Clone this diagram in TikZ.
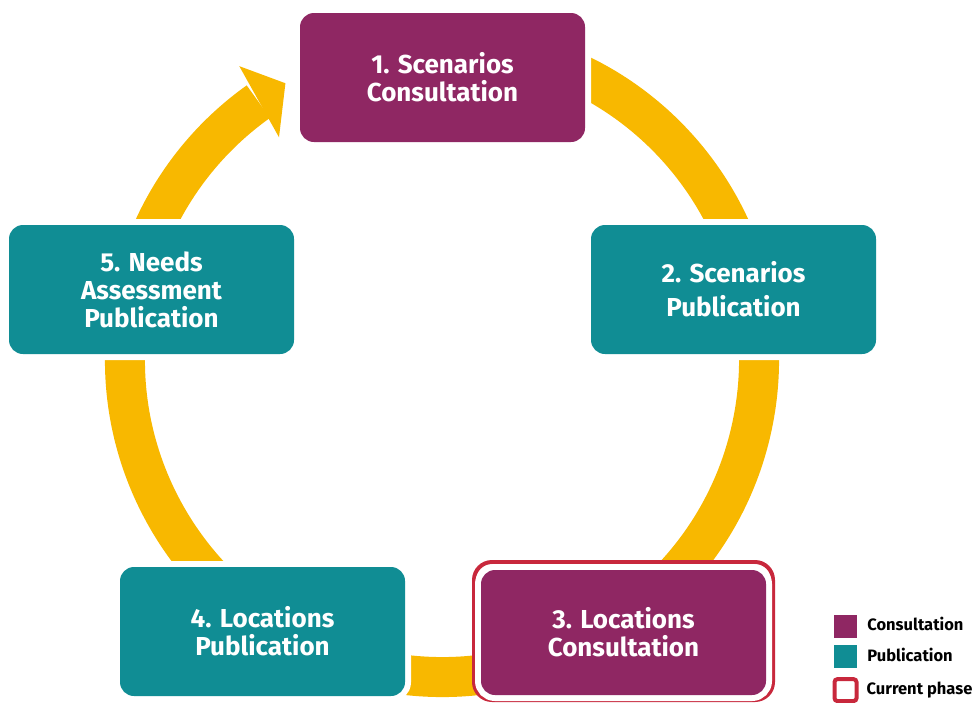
\documentclass[tikz,border=0pt]{standalone}
\usepackage{fontspec}
\setmainfont{Fira Sans}
\usetikzlibrary{positioning,calc}

\definecolor{consult}{HTML}{8F2763}
\definecolor{publish}{HTML}{108D94}
\definecolor{ringyellow}{HTML}{F8B800}
\definecolor{current}{HTML}{C8283C}

\tikzset{
  phase/.style={rounded corners=14pt, minimum width=285pt, minimum height=129pt,
    inner sep=0pt, align=center, text=white,
    font=\fontsize{26}{28}\selectfont\bfseries,
    preaction={draw=white, line width=12pt}},
  consultbox/.style={phase, fill=consult},
  publishbox/.style={phase, fill=publish},
  ring/.style={draw=ringyellow, line width=40pt},
  legsq/.style={minimum size=23pt, inner sep=0pt},
  legtext/.style={inner sep=0pt, font=\fontsize{16.5}{18}\selectfont\bfseries,
    text height=1.5ex, text depth=.3ex, yshift=-1.5pt}
}

\begin{document}
\begin{tikzpicture}[x=1pt, y=-1pt]
  \useasboundingbox (0,0) rectangle (976,702);

  % ring and arrow
  \coordinate (ctr) at (442,360);
  \draw[ring] (ctr) ++(-80:317) arc[start angle=-80, end angle=234.6, radius=317];
  \fill[ringyellow] ($(ctr)+(235.4:357)$) -- ($(ctr)+(240.5:318)$)
    -- ($(ctr)+(233.8:276)$) -- cycle;

  % phases
  \node[consultbox] (b1) at (442.5,77.5) {1. Scenarios\\Consultation};
  \node[publishbox] (b2) at (733.5,289.5) {2. Scenarios\\[6pt]Publication};
  \node[draw=current, line width=4pt, fill=white, rounded corners=18pt,
    minimum width=299pt, minimum height=138pt] (b3frame) at (623.5,631) {};
  \node[consultbox, minimum height=125pt, preaction={}] (b3) at (623.5,632.5)
    {3. Locations\\Consultation};
  \node[publishbox] (b4) at (262.5,631.5) {4. Locations\\Publication};
  \node[publishbox] (b5) at (151.5,289.5) {5. Needs\\Assessment\\Publication};

  % legend
  \node[legsq, fill=consult] (kc) at (845.5,626) {};
  \node[legsq, fill=publish, below=7pt of kc] (kp) {};
  \node[legsq, draw=current, line width=4pt, fill=white, rounded corners=3pt,
    minimum size=22pt, below=9pt of kp] (kf) {};
  \node[legtext, right=10pt of kc] (lc) {Consultation};
  \node[legtext, right=10pt of kp] (lp) {Publication};
  \node[legtext, right=8pt of kf] (lf) {Current phase};

\end{tikzpicture}
\end{document}
